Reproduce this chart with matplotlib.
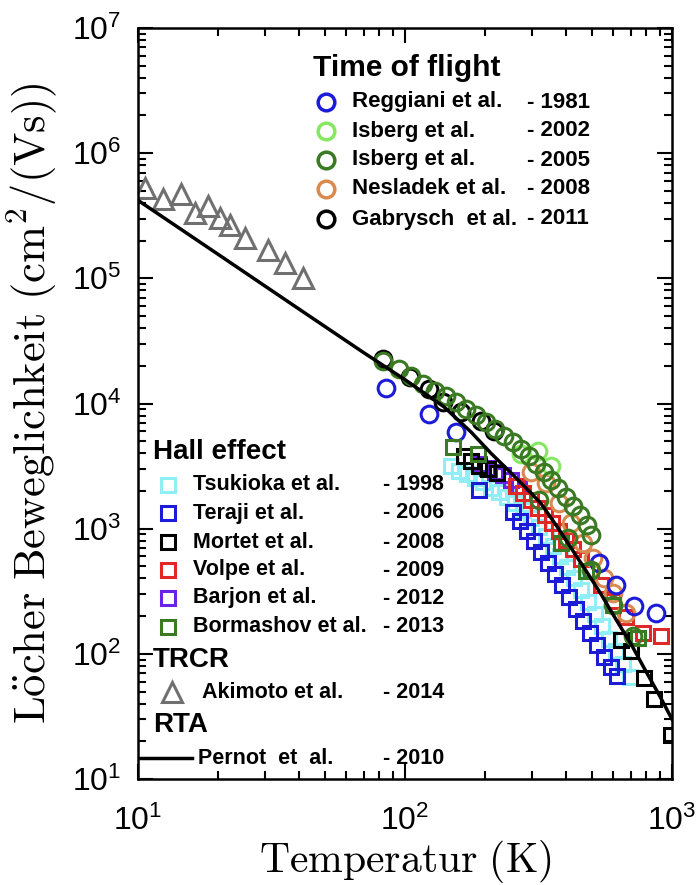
import numpy as np
import matplotlib.pyplot as plt

plt.rcParams['font.family'] = ['Liberation Sans', 'DejaVu Sans']
plt.rcParams['mathtext.fontset'] = 'custom'
plt.rcParams['mathtext.rm'] = 'Liberation Sans'
plt.rcParams['mathtext.it'] = 'Liberation Sans:italic'
plt.rcParams['mathtext.bf'] = 'Liberation Sans:bold'

# ---- data (temperature in K, hole mobility in cm^2/Vs) ----
# RTA calculation, Pernot 2010
pernot_T = [10, 20, 40, 70, 100, 140, 177, 210, 249, 285, 323, 370, 419, 480, 542, 620, 702, 800, 900, 1000]
pernot_mu = [4.2e5, 1.55e5, 5.7e4, 2.55e4, 1.55e4, 9.4e3, 5.9e3, 4.0e3, 2.8e3, 2.1e3, 1.59e3, 1.05e3, 700, 450, 300, 185, 120, 72, 46, 30]

# TRCR, Akimoto 2014
akimoto_T = [10.6, 12.4, 14.5, 16.3, 18.3, 20.3, 22.1, 25.2, 30.7, 35.6, 41.5]
akimoto_mu = [5.3e5, 4.3e5, 4.7e5, 3.3e5, 3.8e5, 3.05e5, 2.65e5, 2.1e5, 1.67e5, 1.32e5, 1.0e5]

# time of flight
reggiani_T = [85, 123, 155, 533, 617, 721, 871]
reggiani_mu = [13300, 8270, 5940, 531, 355, 242, 212]

isberg02_T = [272, 315, 352]
isberg02_mu = [3970, 4200, 3190]

isberg05_T = [83, 95, 105, 117, 129, 142, 155, 169, 184, 201, 217, 235, 254, 272, 291, 310,
              332, 352, 374, 401, 426, 452, 481, 497, 318, 407, 497, 601, 714]
isberg05_mu = [21800, 18800, 16600, 14300, 12600, 11500, 10300, 9060, 8110, 7140, 6280, 5530,
               4950, 4360, 3830, 3310, 2860, 2470, 2100, 1780, 1510, 1280, 1060, 887, 1680, 839,
               467, 246, 140]

nesladek_T = [296, 337, 378, 419, 464, 506, 556, 601, 673]
nesladek_mu = [2860, 2300, 1590, 1100, 765, 582, 403, 306, 213]

gabrysch_T = [83, 104, 123, 139, 162, 193, 215]
gabrysch_mu = [22600, 16300, 13100, 10300, 8570, 7270, 6050]

# Hall effect
tsukioka_T = [149, 159, 171, 183, 196, 210, 225, 241, 258, 277, 296, 318, 337, 358, 381, 405,
              430, 456, 484, 515, 547, 581, 617, 655, 696]
tsukioka_mu = [3190, 2910, 2710, 2520, 2340, 2130, 1950, 1780, 1590, 1400, 1210, 1030, 871, 725,
               604, 494, 403, 324, 260, 209, 168, 132, 106, 83.5, 65.9]

teraji_T = [189, 254, 270, 287, 304, 323, 343, 365, 387, 411, 437, 464, 493, 524, 556, 591, 622]
teraji_mu = [2020, 1370, 1150, 953, 794, 649, 531, 434, 355, 285, 229, 184, 147, 118, 95, 77.8, 67.1]

mortet_T = [166, 177, 189, 205, 221, 644, 702, 785, 857, 991]
mortet_mu = [3830, 3500, 3190, 2970, 2760, 130, 106, 64.7, 43.3, 22.4]

volpe_T = [261, 277, 296, 315, 334, 355, 378, 401, 426, 456, 497, 542, 601, 673, 778, 909]
volpe_mu = [2210, 1910, 1680, 1450, 1280, 1100, 953, 809, 686, 571, 458, 355, 265, 198, 147, 140]

barjon_T = [189, 203, 217, 233, 249, 267]
barjon_mu = [3310, 3070, 2860, 2660, 2430, 2210]

bormashov_T = [151, 188, 384, 477, 601, 746]
bormashov_mu = [4520, 3970, 765, 458, 246, 134]

# legend text
tof_names = ['Reggiani et al.', 'Isberg et al.', 'Isberg et al.', 'Nesladek et al.', 'Gabrysch  et al.']
tof_years = ['- 1981', '- 2002', '- 2005', '- 2008', '- 2011']
hall_names = ['Tsukioka et al.', 'Teraji et al.', 'Mortet et al.', 'Volpe et al.', 'Barjon et al.',
              'Bormashov et al.']
hall_years = ['- 1998', '- 2006', '- 2008', '- 2009', '- 2012', '- 2013']

c_blue = '#1c1cd8'
c_lgreen = '#86e860'
c_dgreen = '#3a7a22'
c_orange = '#d98a50'
c_cyan = '#8ef0f6'
c_red = '#e02828'
c_purple = '#6a22e6'
c_gray = '#707070'

tof_colors = [c_blue, c_lgreen, c_dgreen, c_orange, 'black']
hall_colors = [c_cyan, c_blue, 'black', c_red, c_purple, c_dgreen]

W, H = 697, 885
fig = plt.figure(figsize=(W / 100, H / 100), dpi=100)
ax = fig.add_axes([138 / W, 1 - 779 / H, 534 / W, 751 / H])
ax.set_xscale('log')
ax.set_yscale('log')
ax.set_xlim(10, 1000)
ax.set_ylim(10, 1e7)

ms_c, ms_s, mew = 12, 10.5, 2.2


def sq(T, mu, color):
    ax.plot(T, mu, ls='none', marker='s', ms=ms_s, mfc='none', mec=color, mew=mew)


def circ(T, mu, color):
    ax.plot(T, mu, ls='none', marker='o', ms=ms_c, mfc='none', mec=color, mew=mew)


sq(tsukioka_T, tsukioka_mu, c_cyan)
sq(teraji_T, teraji_mu, c_blue)
sq(barjon_T, barjon_mu, c_purple)
sq(mortet_T, mortet_mu, 'black')
sq(volpe_T, volpe_mu, c_red)
circ(nesladek_T, nesladek_mu, c_orange)
circ(reggiani_T, reggiani_mu, c_blue)
circ(gabrysch_T, gabrysch_mu, 'black')
circ(isberg02_T, isberg02_mu, c_lgreen)
sq(bormashov_T, bormashov_mu, c_dgreen)
circ(isberg05_T, isberg05_mu, c_dgreen)
ax.plot(akimoto_T, akimoto_mu, ls='none', marker='^', ms=15, mfc='none', mec=c_gray, mew=2.2)
ax.plot(pernot_T, pernot_mu, color='black', lw=2.5)

for s in ax.spines.values():
    s.set_linewidth(1.8)
ax.tick_params(which='both', direction='in', top=True, right=True, width=1.5)
ax.tick_params(which='major', length=11, labelsize=23)
ax.tick_params(axis='y', which='major', pad=12)
ax.tick_params(axis='x', which='major', pad=19)
ax.tick_params(which='minor', length=6)
ax.set_yticks([10 ** k for k in range(1, 8)])

ax.set_xlabel(r'$\mathrm{Temperatur\ (K)}$', fontsize=30, math_fontfamily='cm')
ax.xaxis.set_label_coords(0.5, -0.079)
ax.set_ylabel(r'$\mathrm{L\ddot{o}cher\ Beweglichkeit\ (cm^{2}/(Vs))}$', fontsize=32,
              math_fontfamily='cm')
ax.yaxis.set_label_coords(-0.148, 0.5)


# ---- hand-built legends (pixel positions) ----
def fx(x):
    return x / W


def fy(y):
    return 1 - y / H


fig.text(fx(313), fy(68), 'Time of flight', fontsize=21.5, fontweight='bold', va='center')
for i, (n, yr, c) in enumerate(zip(tof_names, tof_years, tof_colors)):
    y = [102, 131, 160, 189, 219][i]
    ax.plot([fx(326)], [fy(y)], transform=fig.transFigure, marker='o', ms=12, mfc='none',
            mec=c, mew=2.5, clip_on=False)
    fig.text(fx(352), fy(y), n, fontsize=16, fontweight='bold', va='center')
    fig.text(fx(527), fy(y), yr, fontsize=16, fontweight='bold', va='center')

fig.text(fx(153), fy(452), 'Hall effect', fontsize=20, fontweight='bold', va='center')
for i, (n, yr, c) in enumerate(zip(hall_names, hall_years, hall_colors)):
    y = [485, 513, 542, 570, 598, 627][i]
    ax.plot([fx(168)], [fy(y)], transform=fig.transFigure, marker='s', ms=9.5, mfc='none',
            mec=c, mew=2.2, clip_on=False)
    fig.text(fx(193), fy(y), n, fontsize=15.5, fontweight='bold', va='center')
    fig.text(fx(383), fy(y), yr, fontsize=15.5, fontweight='bold', va='center')

fig.text(fx(153), fy(660), 'TRCR', fontsize=20, fontweight='bold', va='center')
ax.plot([fx(172)], [fy(692)], transform=fig.transFigure, marker='^', ms=14, mfc='none',
        mec=c_gray, mew=2.2, clip_on=False)
fig.text(fx(202), fy(693), 'Akimoto et al.', fontsize=15.5, fontweight='bold', va='center')
fig.text(fx(383), fy(693), '- 2014', fontsize=15.5, fontweight='bold', va='center')

fig.text(fx(153), fy(725), 'RTA', fontsize=20, fontweight='bold', va='center')
ax.plot([fx(140), fx(192)], [fy(758), fy(758)], transform=fig.transFigure, color='black',
        lw=2.5, clip_on=False)
fig.text(fx(198), fy(758), 'Pernot  et  al.', fontsize=15.5, fontweight='bold', va='center')
fig.text(fx(383), fy(758), '- 2010', fontsize=15.5, fontweight='bold', va='center')

fig.savefig('out.png', dpi=100)
